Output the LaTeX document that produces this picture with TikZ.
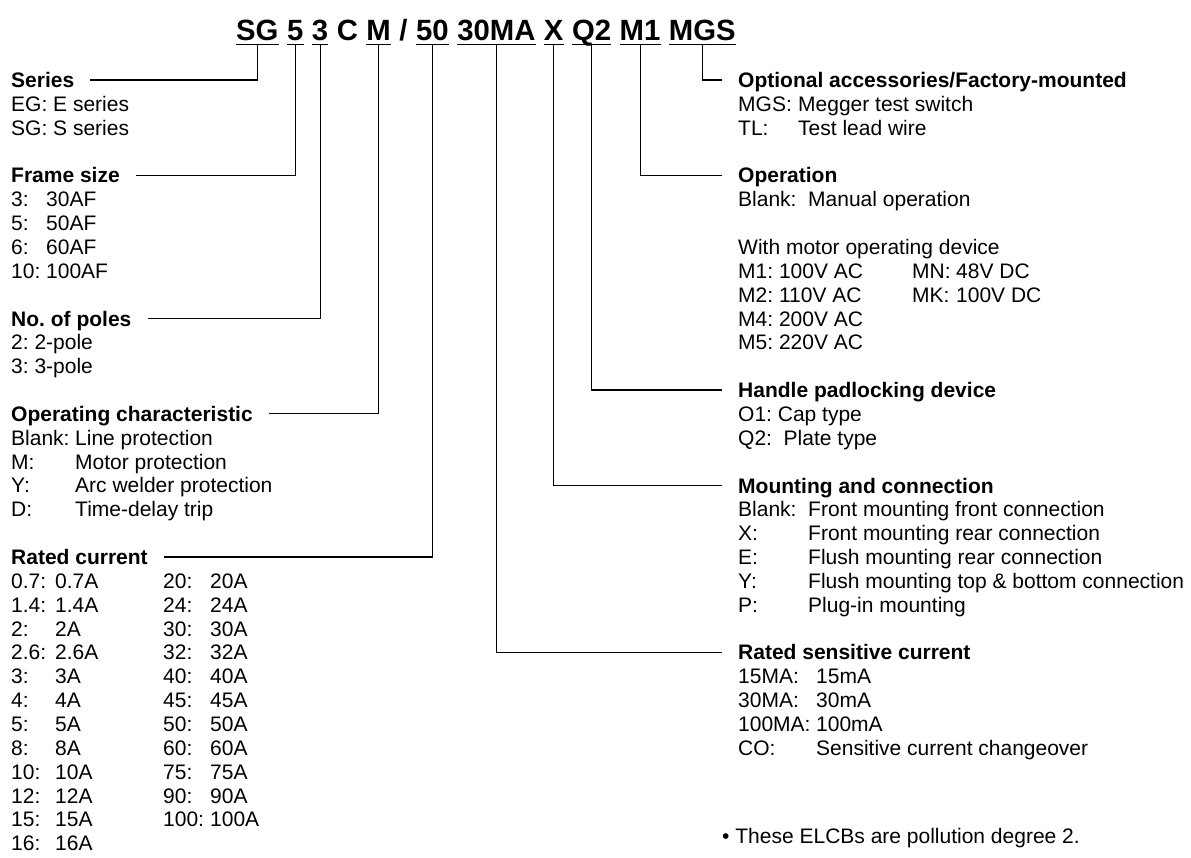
\documentclass[tikz,border=0pt]{standalone}
\usepackage{fontspec}
\setmainfont{Liberation Sans}
\usetikzlibrary{positioning}
\frenchspacing

\begin{document}
\begin{tikzpicture}[x=1pt,y=-1pt,
    code/.style={font=\fontsize{29.3}{32}\selectfont\bfseries,inner xsep=0pt,inner ysep=4pt,text height=21pt,text depth=0pt},
    head/.style={font=\fontsize{21}{24}\selectfont\bfseries,inner sep=0pt,text height=15pt,text depth=0pt,anchor=base west},
    items/.style={font=\fontsize{21}{24}\selectfont,inner sep=0pt,anchor=base west},
    lead/.style={line width=1.1pt}]
  \useasboundingbox (0,0) rectangle (1191,857);
  % --- type code ---
  \node[code,anchor=base west] (sg) at (236,40) {SG};
  \node[code,base right=8.15pt of sg] (fr) {5};
  \node[code,base right=8.15pt of fr] (po) {3};
  \node[code,base right=8.15pt of po] (cc) {C};
  \node[code,base right=8.15pt of cc] (ch) {M};
  \node[code,base right=8.15pt of ch] (sl) {/};
  \node[code,base right=8.15pt of sl] (rc) {50};
  \node[code,base right=8.15pt of rc] (sc) {30MA};
  \node[code,base right=8.15pt of sc] (mc) {X};
  \node[code,base right=8.15pt of mc] (hp) {Q2};
  \node[code,base right=8.15pt of hp] (op) {M1};
  \node[code,base right=8.15pt of op] (ac) {MGS};
  \foreach \n in {sg,fr,po,ch,rc,sc,mc,hp,op,ac} \draw[lead] (\n.south west) -- (\n.south east);

  % --- left column ---
  \node[head] (hse) at (11,87.5) {Series};
  \foreach \k/\v [count=\i] in {EG/E series, SG/S series}
    \node[items] (se\i) at ([yshift=-23.85pt*\i]hse.base west) {\k: \v};
  \draw[lead] ([xshift=16pt]hse.east) -| (sg.south);

  \node[head] (hfr) at (11,182.9) {Frame size};
  \foreach \k/\v [count=\i] in {3/30AF, 5/50AF, 6/60AF, 10/100AF}
    \node[items] (fr\i) at ([yshift=-23.85pt*\i]hfr.base west) {\makebox[35pt][l]{\k:}\v};
  \draw[lead] ([xshift=16pt]hfr.east) -| (fr.south);

  \node[head] (hpo) at (11,326) {No. of poles};
  \foreach \k/\v [count=\i] in {2/2-pole, 3/3-pole}
    \node[items] (po\i) at ([yshift=-23.85pt*\i]hpo.base west) {\k: \v};
  \draw[lead] ([xshift=16pt]hpo.east) -| (po.south);

  \node[head] (hch) at (11,421.4) {Operating characteristic};
  \foreach \k/\v [count=\i] in {Blank/Line protection, M/Motor protection, Y/Arc welder protection, D/Time-delay trip}
    \node[items] (ch\i) at ([yshift=-23.85pt*\i]hch.base west) {\makebox[64pt][l]{\k:}\v};
  \draw[lead] ([xshift=16pt]hch.east) -| (ch.south);

  \node[head] (hrc) at (11,564.5) {Rated current};
  \foreach \a [count=\i] in {0.7,1.4,2,2.6,3,4,5,8,10,12,15,16}
    \node[items] (ra\i) at ([yshift=-23.85pt*\i]hrc.base west) {\makebox[44pt][l]{\a:}\a A};
  \foreach \a [count=\i] in {20,24,30,32,40,45,50,60,75,90,100}
    \node[items] (rb\i) at ([xshift=152pt,yshift=-23.85pt*\i]hrc.base west) {\makebox[47pt][l]{\a:}\a A};
  \draw[lead] ([xshift=16pt]hrc.east) -| (rc.south);

  % --- right column ---
  \node[head] (hac) at (738,87.5) {Optional accessories/Factory-mounted};
  \foreach \k/\v [count=\i] in {MGS/Megger test switch, TL/Test lead wire}
    \node[items] (ac\i) at ([yshift=-23.85pt*\i]hac.base west) {\makebox[60pt][l]{\k:}\v};
  \draw[lead] (ac.south) |- ([xshift=-16pt]hac.west);

  \node[head] (hop) at (738,182.9) {Operation};
  \node[items] (op1) at ([yshift=-23.85pt]hop.base west) {Blank:\ \ Manual operation};
  \node[items] (op2) at ([yshift=-71.55pt]hop.base west) {With motor operating device};
  \foreach \k/\v [count=\i] in {M1/100V AC, M2/110V AC, M4/200V AC, M5/220V AC}
    \node[items] (ma\i) at ([yshift=-71.55pt-23.85pt*\i]hop.base west) {\k: \v};
  \foreach \k/\v [count=\i] in {MN/48V DC, MK/100V DC}
    \node[items] (md\i) at ([xshift=174pt,yshift=-71.55pt-23.85pt*\i]hop.base west) {\makebox[44pt][l]{\k:}\v};
  \draw[lead] (op.south) |- ([xshift=-16pt]hop.west);

  \node[head] (hhp) at (738,397.5) {Handle padlocking device};
  \node[items] (hp1) at ([yshift=-23.85pt]hhp.base west) {O1: Cap type};
  \node[items] (hp2) at ([yshift=-47.7pt]hhp.base west) {Q2:\ \ Plate type};
  \draw[lead] (hp.south) |- ([xshift=-16pt]hhp.west);

  \node[head] (hmc) at (738,493) {Mounting and connection};
  \foreach \k/\v [count=\i] in {Blank/Front mounting front connection, X/Front mounting rear connection, E/Flush mounting rear connection, Y/Flush mounting top \& bottom connection, P/Plug-in mounting}
    \node[items] (mc\i) at ([yshift=-23.85pt*\i]hmc.base west) {\makebox[70pt][l]{\k:}\v};
  \draw[lead] (mc.south) |- ([xshift=-16pt]hmc.west);

  \node[head] (hsc) at (738,659.9) {Rated sensitive current};
  \foreach \k/\v [count=\i] in {15MA/15mA, 30MA/30mA, 100MA/100mA, CO/Sensitive current changeover}
    \node[items] (sc\i) at ([yshift=-23.85pt*\i]hsc.base west) {\makebox[78pt][l]{\k:}\v};
  \draw[lead] (sc.south) |- ([xshift=-16pt]hsc.west);

  \node[items] (note) at (722,843.5) {•\ These ELCBs are pollution degree 2.};
\end{tikzpicture}
\end{document}
